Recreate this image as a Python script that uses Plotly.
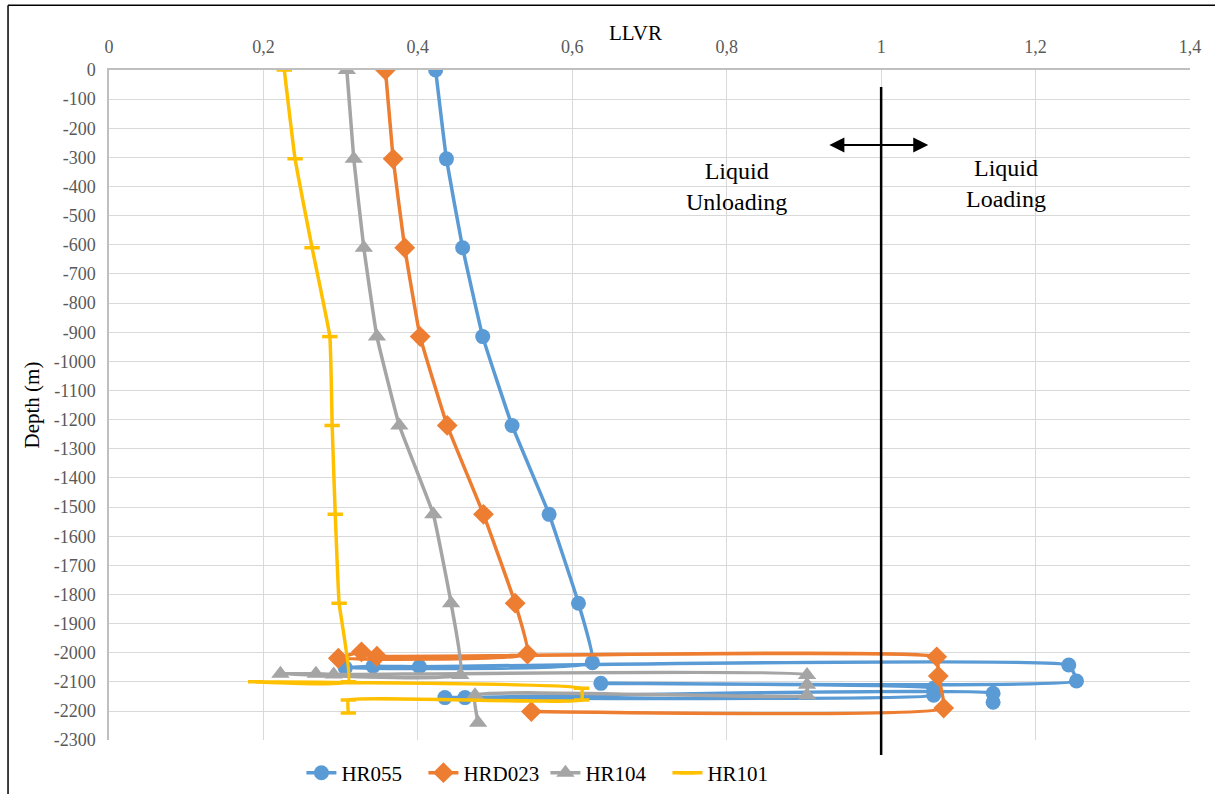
import plotly.graph_objects as go

# ---------------- data ----------------
hr055_llvr = [0.423, 0.437, 0.458, 0.484, 0.522, 0.570, 0.608, 0.626, 0.306, 0.342, 0.402,
              1.243, 1.253, 0.637, 1.068, 1.068, 0.435, 0.461, 1.145, 1.145]
hr055_depth = [0, -305, -610, -915, -1220, -1525, -1830, -2034, -2052, -2046, -2048,
               -2042, -2097, -2105, -2122, -2146, -2154, -2154, -2139, -2170]

hrd023_llvr = [0.358, 0.368, 0.383, 0.403, 0.438, 0.485, 0.526, 0.542, 0.297, 0.327, 0.347,
               1.072, 1.074, 1.081, 0.547]
hrd023_depth = [0, -305, -610, -915, -1220, -1525, -1830, -2005, -2019, -1997, -2012,
                -2014, -2080, -2190, -2202]

hr104_llvr = [0.308, 0.317, 0.330, 0.347, 0.376, 0.420, 0.443, 0.455, 0.222, 0.268, 0.291,
              0.904, 0.904, 0.904, 0.474, 0.478]
hr104_depth = [0, -305, -610, -915, -1220, -1525, -1830, -2076, -2072, -2072, -2075,
               -2076, -2110, -2146, -2146, -2240]

hr101_llvr = [0.227, 0.241, 0.263, 0.286, 0.289, 0.293, 0.298, 0.310, 0.190, 0.612, 0.612,
              0.310, 0.310]
hr101_depth = [0, -305, -610, -915, -1220, -1525, -1830, -2100, -2100, -2122, -2162,
               -2162, -2207]

x_tickvals = [0, 0.2, 0.4, 0.6, 0.8, 1.0, 1.2, 1.4]
x_ticktext = ["0", "0,2", "0,4", "0,6", "0,8", "1", "1,2", "1,4"]
y_tickvals = list(range(0, -2301, -100))
y_ticktext = [str(v) for v in y_tickvals]

# ---------------- figure ----------------
FONT = "Liberation Serif"
fig = go.Figure()

def add_series(x, y, name, color, symbol, msize, mline=None):
    marker = dict(symbol=symbol, size=msize, color=color)
    if mline is not None:
        marker["line"] = dict(color=color, width=mline)
    fig.add_trace(go.Scatter(
        x=x, y=y, name=name, mode="lines+markers",
        line=dict(color=color, width=3.5, shape="spline", smoothing=0.3),
        marker=marker,
    ))

add_series(hr055_llvr, hr055_depth, "HR055", "#5B9BD5", "circle", 15)
add_series(hrd023_llvr, hrd023_depth, "HRD023", "#ED7D31", "diamond", 16)
add_series(hr104_llvr, hr104_depth, "HR104", "#A5A5A5", "triangle-up", 16)
add_series(hr101_llvr, hr101_depth, "HR101", "#FFC000", "line-ew", 11, mline=3.5)

# paper area: x 109..1190 px, y 70..794 px (height 724); plot domain bottom at 742 px
def py(p):
    return (794 - p) / 724.0

# vertical threshold line at LLVR = 1
fig.add_shape(type="line", xref="x", yref="paper", x0=1, x1=1,
              y0=py(757), y1=py(87), line=dict(color="black", width=2.5))
# chart border (left and top)
fig.add_shape(type="line", xref="paper", yref="paper", x0=-0.0934, x1=-0.0934,
              y0=-0.01, y1=py(5), line=dict(color="black", width=1.5))
fig.add_shape(type="line", xref="paper", yref="paper", x0=-0.0934, x1=1.03,
              y0=py(5), y1=py(5), line=dict(color="black", width=1.5))

# double arrow
fig.add_annotation(x=1.061, y=-257, ax=0.931, ay=-257, axref="x", ayref="y",
                   xref="x", yref="y", text="", showarrow=True,
                   arrowside="end+start", arrowhead=2, arrowsize=1.5,
                   arrowwidth=2, arrowcolor="black")
fig.add_annotation(x=0.813, y=-400, xref="x", yref="y", text="Liquid<br>Unloading",
                   showarrow=False, font=dict(family=FONT, size=24, color="#000000"),
                   align="center")
fig.add_annotation(x=1.162, y=-390, xref="x", yref="y", text="Liquid<br>Loading",
                   showarrow=False, font=dict(family=FONT, size=24, color="#000000"),
                   align="center")
# x-axis title
fig.add_annotation(x=0.4866, y=py(33), xref="paper", yref="paper", text="LLVR",
                   showarrow=False, font=dict(family=FONT, size=21, color="#000000"),
                   xanchor="center", yanchor="middle")

fig.update_layout(
    width=1215, height=794, autosize=False,
    margin=dict(l=109, r=25, t=70, b=0),
    paper_bgcolor="white", plot_bgcolor="white",
    font=dict(family=FONT, size=18, color="#595959"),
    showlegend=True,
    legend=dict(orientation="h", x=0.178, xanchor="left",
                y=py(775), yanchor="middle",
                font=dict(family=FONT, size=21, color="#000000"),
                itemwidth=30, entrywidth=77, bgcolor="rgba(0,0,0,0)"),
    xaxis=dict(range=[0, 1.4], side="top", tickvals=x_tickvals, ticktext=x_ticktext,
               showgrid=True, gridcolor="#d9d9d9", gridwidth=1,
               showline=True, linecolor="#bfbfbf", linewidth=1.5,
               zeroline=False, ticks="", ticklabelstandoff=8, automargin=False,
               tickfont=dict(family=FONT, size=18, color="#595959")),
    yaxis=dict(range=[-2300, 0], domain=[py(742), 1], tickvals=y_tickvals, ticktext=y_ticktext,
               showgrid=True, gridcolor="#d9d9d9", gridwidth=1,
               showline=True, linecolor="#bfbfbf", linewidth=1.5,
               zeroline=False, ticks="", ticklabelstandoff=8, automargin=False,
               tickfont=dict(family=FONT, size=18, color="#595959"),
               title=dict(text="Depth (m)", font=dict(family=FONT, size=21, color="#000000"),
                          standoff=8)),
)

fig.write_html("out.html")
